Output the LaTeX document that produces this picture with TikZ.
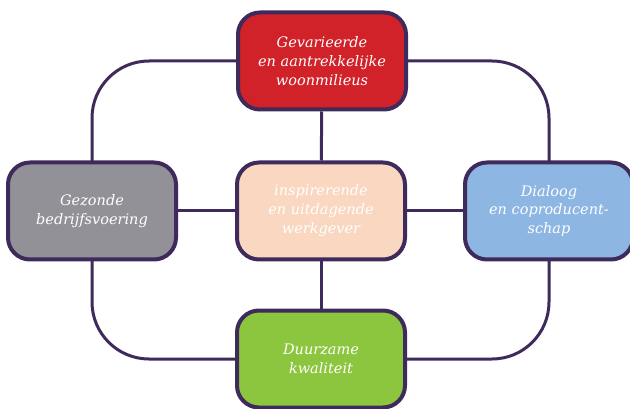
\documentclass[tikz,border=0pt]{standalone}
\usepackage{fontspec}
\setmainfont{DejaVu Serif}
\usetikzlibrary{backgrounds}

\definecolor{lijn}{HTML}{3F2A5C}
\definecolor{rood}{HTML}{D1222A}
\definecolor{grijs}{HTML}{939198}
\definecolor{perzik}{HTML}{F9D7C0}
\definecolor{blauw}{HTML}{8DB6E3}
\definecolor{groen}{HTML}{8CC63F}

\tikzset{
	thema/.style={draw=lijn, line width=4pt, rounded corners=22pt,
		minimum width=168pt, minimum height=97pt, align=center,
		text=white, font=\fontsize{14.5}{19}\selectfont\itshape},
	verbinding/.style={draw=lijn, line width=3pt}
}

\begin{document}
\begin{tikzpicture}[x=1pt, y=-1pt]
	\useasboundingbox (0,0) rectangle (630,409);
	
	\node[thema, fill=rood] (woon) at (322,61) {Gevarieerde\\en aantrekkelijke\\woonmilieus};
	\node[thema, fill=grijs] (bedrijf) at (92,211) {Gezonde\\bedrijfsvoering};
	\node[thema, fill=perzik] (werkgever) at (321,211) {inspirerende\\en uitdagende\\werkgever};
	\node[thema, fill=blauw] (dialoog) at (549,211) {Dialoog\\en coproducent-\\schap};
	\node[thema, fill=groen] (kwaliteit) at (321,359) {Duurzame\\kwaliteit};
	
	\begin{scope}[on background layer]
	\draw[verbinding, rounded corners=57pt] (woon.center) -| (dialoog.center)
		|- (kwaliteit.center) -| (bedrijf.center) |- (woon.center);
	\draw[verbinding] (werkgever) -- (woon);
	\draw[verbinding] (werkgever) -- (kwaliteit);
	\draw[verbinding] (werkgever) -- (bedrijf);
	\draw[verbinding] (werkgever) -- (dialoog);
	\end{scope}
	
\end{tikzpicture}
\end{document}
